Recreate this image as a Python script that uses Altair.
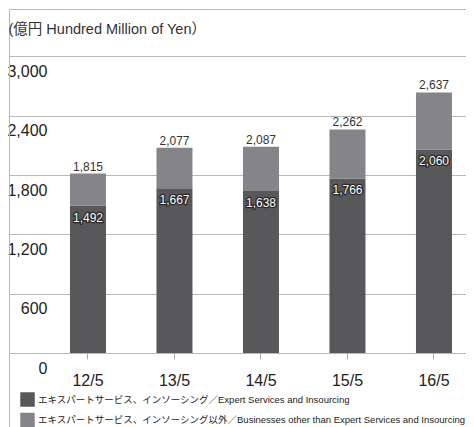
import altair as alt
import pandas as pd

categories = ["12/5", "13/5", "14/5", "15/5", "16/5"]
expert = [1492, 1667, 1638, 1766, 2060]
other = [323, 410, 449, 496, 577]
totals = [1815, 2077, 2087, 2262, 2637]
series_names = [
    "エキスパートサービス、インソーシング／Expert Services and Insourcing",
    "エキスパートサービス、インソーシング以外／Businesses other than Expert Services and Insourcing",
]
colors = ["#58585b", "#858589"]
y_ticks = [0, 600, 1200, 1800, 2400, 3000]
y_title = "(億円 Hundred Million of Yen）"

rows = []
for i, c in enumerate(categories):
    rows.append({"cat": c, "series": series_names[0], "value": expert[i], "k": 0})
    rows.append({"cat": c, "series": series_names[1], "value": other[i], "k": 1})
long_df = pd.DataFrame(rows)
wide_df = pd.DataFrame({"cat": categories, "expert": expert, "total": totals})

Y_TOP = 3480.6
Y_BOT = -748.7
yscale = alt.Scale(domain=[Y_BOT, Y_TOP], nice=False, zero=False)
xscale = alt.Scale(paddingInner=0.5838, paddingOuter=0.4335, align=0.813)

GRID = "#b8b8b8"
SANS = "'Liberation Sans', 'Noto Sans CJK JP', sans-serif"

yaxis = alt.Axis(
    values=y_ticks + [Y_TOP],
    labelExpr="datum.value > 3100 ? '' : format(datum.value, ',')",
    grid=True, gridColor=GRID, gridWidth=1,
    ticks=False, tickSize=0,
    domain=True, domainColor=GRID, domainWidth=1,
    labelAlign="right", labelBaseline="middle", labelPadding=-38, labelOffset=15,
    labelFont="Liberation Sans", labelFontSize=16, labelColor="#222", labelOverlap=False,
    title=y_title, titleAngle=0, titleAlign="left", titleBaseline="middle",
    titleX=-1, titleY=20, titleFont=SANS,
    titleFontSize=14.5, titleFontWeight="normal", titleColor="#333",
)
xaxis = alt.Axis(
    orient="bottom", offset=-74, domain=False, grid=False,
    ticks=True, tickSize=6, tickColor="#aaaaaa", tickWidth=1,
    labelFont="Liberation Sans", labelFontSize=16, labelColor="#222",
    labelPadding=13, labelAngle=0, title=None,
)

x_enc = alt.X("cat:N", sort=categories, scale=xscale, axis=xaxis)

bars = alt.Chart(long_df).mark_bar().encode(
    x=x_enc,
    y=alt.Y("value:Q", stack="zero", scale=yscale, axis=yaxis),
    color=alt.Color(
        "series:N",
        sort=series_names,
        scale=alt.Scale(domain=series_names, range=colors),
        legend=alt.Legend(
            title=None, orient="none", legendX=11, legendY=383,
            direction="vertical", symbolType="square", symbolSize=210,
            symbolStrokeWidth=0, symbolOpacity=1, padding=0, rowPadding=5.5,
            labelFont=SANS, labelFontSize=9.5, labelColor="#222",
            labelOffset=3, labelLimit=0,
        ),
    ),
    order=alt.Order("k:Q", sort="ascending"),
)

total_text = alt.Chart(wide_df).mark_text(
    baseline="alphabetic", dy=-3, font="Liberation Sans", fontSize=12, color="#333"
).encode(
    x=x_enc,
    y=alt.Y("total:Q", scale=yscale, axis=yaxis),
    text=alt.Text("total:Q", format=","),
)

inner_halo = alt.Chart(wide_df).mark_text(
    baseline="alphabetic", dy=16, font="Liberation Sans", fontSize=12,
    color="#262626", stroke="#262626", strokeWidth=2.5, strokeJoin="round",
).encode(
    x=x_enc,
    y=alt.Y("expert:Q", scale=yscale, axis=yaxis),
    text=alt.Text("expert:Q", format=","),
)

inner_text = alt.Chart(wide_df).mark_text(
    baseline="alphabetic", dy=16, font="Liberation Sans", fontSize=12, color="#ffffff",
).encode(
    x=x_enc,
    y=alt.Y("expert:Q", scale=yscale, axis=yaxis),
    text=alt.Text("expert:Q", format=","),
)

chart = alt.layer(bars, total_text, inner_halo, inner_text).properties(
    width=457, height=418,
    autosize=alt.AutoSizeParams(type="none"),
    padding={"left": 1, "top": 1, "right": 0, "bottom": 0},
    background="white",
).configure_view(stroke="transparent")

chart.save("out.html", embed_options={"renderer": "svg", "actions": False})
